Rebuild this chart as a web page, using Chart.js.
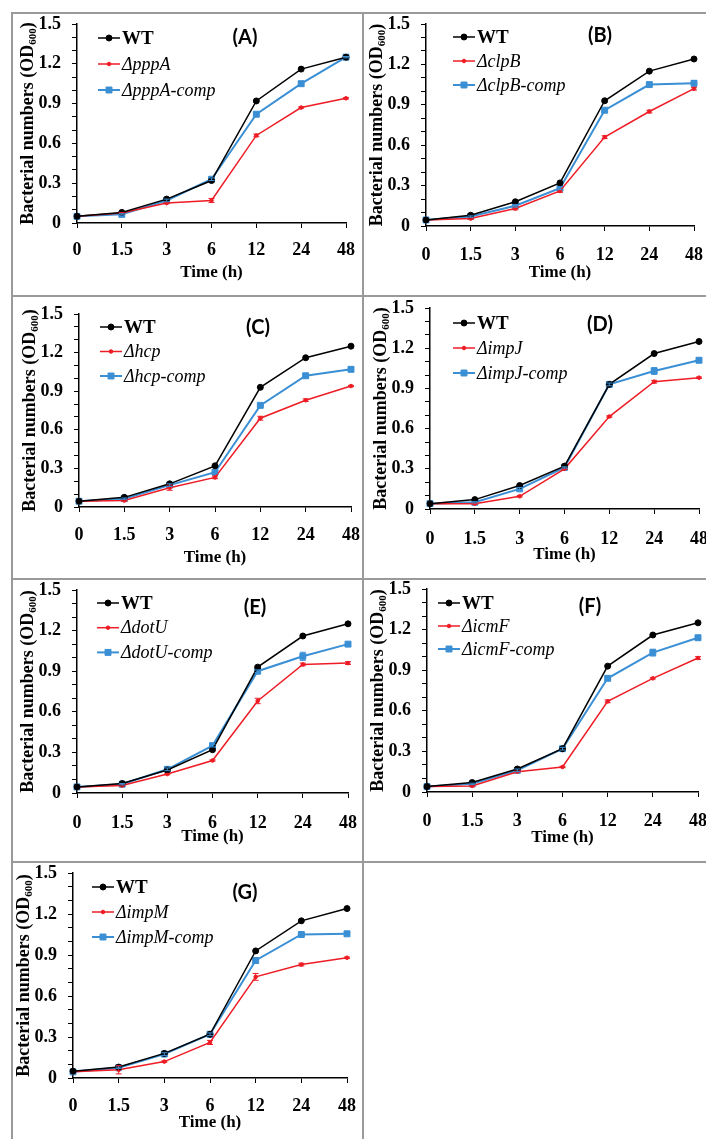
<!DOCTYPE html>
<html>
<head>
<meta charset="utf-8">
<script src="https://cdn.jsdelivr.net/npm/chart.js@4.4.1/dist/chart.umd.min.js"></script>
<style>
  html,body{margin:0;padding:0;background:#fff;overflow:hidden;}
  #wrap{position:relative;width:706px;height:1139px;overflow:hidden;}
  canvas{position:absolute;}
  .ln{position:absolute;background:#9a9a9a;}
</style>
</head>
<body>
<div id="wrap">
  <div class="ln" style="left:11px;top:12px;width:695px;height:2px"></div>
  <div class="ln" style="left:11px;top:295px;width:695px;height:2px"></div>
  <div class="ln" style="left:11px;top:578px;width:695px;height:2px"></div>
  <div class="ln" style="left:11px;top:861px;width:695px;height:2px"></div>
  <div class="ln" style="left:11px;top:12px;width:2px;height:1127px"></div>
  <div class="ln" style="left:362px;top:12px;width:2px;height:1127px"></div>
</div>
<script>
// ---------- data ----------
const timeLabels = ['0', '1.5', '3', '6', '12', '24', '48'];
const yTickValues = [0, 0.3, 0.6, 0.9, 1.2, 1.5];
const panelTags = ['(A)', '(B)', '(C)', '(D)', '(E)', '(F)', '(G)'];
const mutantNames = ['\u0394pppA', '\u0394clpB', '\u0394hcp', '\u0394impJ', '\u0394dotU', '\u0394icmF', '\u0394impM'];

const wtA   = [0.05, 0.08, 0.18, 0.32, 0.92, 1.16, 1.25];
const mutA  = [0.05, 0.075, 0.15, 0.17, 0.66, 0.87, 0.94];
const compA = [0.05, 0.065, 0.17, 0.33, 0.82, 1.05, 1.25];
const errMutA  = [0, 0.005, 0.005, 0.015, 0.01, 0.005, 0.005];
const errCompA = [0, 0.005, 0.01, 0.01, 0.01, 0.01, 0.005];

const wtB   = [0.045, 0.08, 0.18, 0.32, 0.93, 1.15, 1.24];
const mutB  = [0.045, 0.055, 0.13, 0.26, 0.66, 0.85, 1.02];
const compB = [0.045, 0.07, 0.15, 0.28, 0.86, 1.05, 1.06];
const errMutB  = [0, 0.005, 0.01, 0.01, 0.01, 0.01, 0.01];
const errCompB = [0, 0.005, 0.01, 0.01, 0.01, 0.01, 0.02];

const wtC   = [0.045, 0.075, 0.18, 0.32, 0.93, 1.16, 1.25];
const mutC  = [0.045, 0.05, 0.15, 0.23, 0.69, 0.83, 0.94];
const compC = [0.045, 0.065, 0.17, 0.27, 0.79, 1.02, 1.07];
const errMutC  = [0, 0.005, 0.02, 0.01, 0.015, 0.01, 0.005];
const errCompC = [0, 0.005, 0.01, 0.01, 0.01, 0.01, 0.01];

const wtD   = [0.04, 0.07, 0.175, 0.32, 0.93, 1.16, 1.25];
const mutD  = [0.04, 0.04, 0.095, 0.30, 0.69, 0.95, 0.98];
const compD = [0.04, 0.05, 0.15, 0.31, 0.93, 1.03, 1.11];
const errMutD  = [0, 0.005, 0.005, 0.005, 0.005, 0.01, 0.005];
const errCompD = [0, 0.005, 0.01, 0.005, 0.01, 0.025, 0.01];

const wtE   = [0.045, 0.07, 0.17, 0.32, 0.93, 1.16, 1.25];
const mutE  = [0.045, 0.055, 0.14, 0.24, 0.68, 0.95, 0.96];
const compE = [0.045, 0.065, 0.175, 0.35, 0.90, 1.01, 1.10];
const errMutE  = [0, 0.005, 0.005, 0.005, 0.02, 0.01, 0.01];
const errCompE = [0, 0.005, 0.01, 0.01, 0.01, 0.03, 0.01];

const wtF   = [0.04, 0.07, 0.17, 0.32, 0.93, 1.16, 1.25];
const mutF  = [0.04, 0.045, 0.15, 0.185, 0.67, 0.84, 0.99];
const compF = [0.04, 0.06, 0.16, 0.32, 0.84, 1.03, 1.14];
const errMutF  = [0, 0.005, 0.005, 0.005, 0.01, 0.005, 0.01];
const errCompF = [0, 0.005, 0.01, 0.01, 0.01, 0.025, 0.01];

const wtG   = [0.05, 0.08, 0.18, 0.32, 0.93, 1.15, 1.24];
const mutG  = [0.045, 0.06, 0.12, 0.26, 0.74, 0.83, 0.88];
const compG = [0.045, 0.075, 0.175, 0.32, 0.86, 1.05, 1.055];
const errMutG  = [0, 0.03, 0.005, 0.015, 0.025, 0.01, 0.005];
const errCompG = [0, 0.005, 0.01, 0.01, 0.02, 0.005, 0.005];

const seriesWT   = [wtA, wtB, wtC, wtD, wtE, wtF, wtG];
const seriesMut  = [mutA, mutB, mutC, mutD, mutE, mutF, mutG];
const seriesComp = [compA, compB, compC, compD, compE, compF, compG];
const errMut  = [errMutA, errMutB, errMutC, errMutD, errMutE, errMutF, errMutG];
const errComp = [errCompA, errCompB, errCompC, errCompD, errCompE, errCompF, errCompG];

// ---------- layout (page pixels) ----------
const layouts = [
  {canvas:[13,14,349,281],  plot:[77,24,346,223],   xt:50, xp:12, leg:[21,14,26],   tag:[245,38]},
  {canvas:[364,14,356,281], plot:[426,24,694,226],  xt:47, xp:14, leg:[27,13,24],   tag:[600,36]},
  {canvas:[13,297,349,281], plot:[79,314,351,507],  xt:51, xp:13, leg:[21,13,24.5], tag:[258,328]},
  {canvas:[364,297,356,281],plot:[430,308,699,509], xt:46, xp:15, leg:[23,15,25],   tag:[600,325]},
  {canvas:[13,580,349,281], plot:[77,590,348,793],  xt:44, xp:15, leg:[20,13,24.7], tag:[255,608]},
  {canvas:[364,580,356,281],plot:[427,589,698,792], xt:46, xp:14, leg:[11,14,23],   tag:[590,607]},
  {canvas:[13,863,349,276], plot:[73,873,347,1078], xt:45, xp:13, leg:[19,14,25],   tag:[245,893]}
];

const SERIF = "'Liberation Serif','Times New Roman',serif";
const RED = '#ee1c25', BLUE = '#3b8fd4';

const errorBars = {
  id: 'errorBars',
  afterDatasetsDraw(chart) {
    const ctx = chart.ctx, ys = chart.scales.y;
    chart.data.datasets.forEach((ds, i) => {
      if (!ds.err) return;
      const meta = chart.getDatasetMeta(i);
      ctx.save();
      ctx.strokeStyle = ds.borderColor; ctx.lineWidth = 1;
      meta.data.forEach((pt, j) => {
        const e = ds.err[j]; if (!e) return;
        const y1 = ys.getPixelForValue(ds.data[j] + e), y2 = ys.getPixelForValue(ds.data[j] - e);
        ctx.beginPath();
        ctx.moveTo(pt.x, y1); ctx.lineTo(pt.x, y2);
        ctx.moveTo(pt.x - 3, y1); ctx.lineTo(pt.x + 3, y1);
        ctx.moveTo(pt.x - 3, y2); ctx.lineTo(pt.x + 3, y2);
        ctx.stroke();
      });
      ctx.restore();
    });
  }
};

const decorations = {
  id: 'decorations',
  afterDraw(chart, args, opts) {
    const ctx = chart.ctx, ca = chart.chartArea, L = opts.layout;
    const cx = L.canvas[0], cy = L.canvas[1];
    // legend
    chart.data.datasets.forEach((ds, i) => {
      const y = ca.top + L.leg[1] + i * L.leg[2];
      const x0 = ca.left + L.leg[0];
      ctx.save();
      ctx.strokeStyle = ds.borderColor; ctx.fillStyle = ds.backgroundColor;
      ctx.lineWidth = ds.borderWidth;
      ctx.beginPath(); ctx.moveTo(x0, y); ctx.lineTo(x0 + 22, y); ctx.stroke();
      ctx.lineWidth = 1;
      Chart.helpers.drawPoint(ctx, {pointStyle: ds.pointStyle, radius: ds.pointRadius, rotation: 0, borderWidth: 1}, x0 + 11, y);
      ctx.fillStyle = '#000';
      ctx.textBaseline = 'middle'; ctx.textAlign = 'left';
      ctx.font = (i === 0 ? 'bold 19px ' : 'italic 18px ') + SERIF;
      ctx.fillText(ds.label, x0 + 24, y + 1);
      ctx.restore();
    });
    // panel tag
    ctx.save();
    ctx.font = "bold 20px Lato, 'Open Sans', sans-serif";
    ctx.fillStyle = '#000'; ctx.textAlign = 'center'; ctx.textBaseline = 'middle';
    ctx.fillText(opts.tag, L.tag[0] - cx, L.tag[1] - cy);
    ctx.restore();
    // y title with subscript
    ctx.save();
    const main = 'Bacterial numbers (OD', sub = '600', end = ')';
    const fMain = 'bold 18px ' + SERIF, fSub = 'bold 11px ' + SERIF;
    ctx.font = fMain; const w1 = ctx.measureText(main).width, w3 = ctx.measureText(end).width;
    ctx.font = fSub; const w2 = ctx.measureText(sub).width;
    const tot = w1 + w2 + w3;
    ctx.translate(ca.left - 49, (ca.top + ca.bottom) / 2);
    ctx.rotate(-Math.PI / 2);
    ctx.fillStyle = '#000'; ctx.textBaseline = 'middle'; ctx.textAlign = 'left';
    let x = -tot / 2;
    ctx.font = fMain; ctx.fillText(main, x, 0); x += w1;
    ctx.font = fSub; ctx.fillText(sub, x, 5); x += w2;
    ctx.font = fMain; ctx.fillText(end, x, 0);
    ctx.restore();
  }
};

layouts.forEach((L, p) => {
  const cv = document.createElement('canvas');
  const [cx, cy, cw, ch] = L.canvas;
  cv.width = cw; cv.height = ch;
  cv.style.left = cx + 'px'; cv.style.top = cy + 'px';
  cv.style.width = cw + 'px'; cv.style.height = ch + 'px';
  document.getElementById('wrap').appendChild(cv);
  const [pl, pt, pr, pb] = L.plot;
  const titleLH = 17 * 1.2;
  const titlePadBottom = (cy + ch) - (pb + L.xt) - titleLH / 2;

  new Chart(cv, {
    type: 'line',
    data: {
      labels: timeLabels,
      datasets: [
        {label: 'WT', data: seriesWT[p], borderColor: '#000', backgroundColor: '#000',
         borderWidth: 1.5, pointStyle: 'circle', pointRadius: 3, pointBorderWidth: 1, tension: 0},
        {label: mutantNames[p], data: seriesMut[p], err: errMut[p], borderColor: RED, backgroundColor: RED,
         borderWidth: 1.5, pointStyle: 'circle', pointRadius: 1.8, pointBorderWidth: 1, tension: 0},
        {label: mutantNames[p] + '-comp', data: seriesComp[p], err: errComp[p], borderColor: BLUE, backgroundColor: BLUE,
         borderWidth: 2, pointStyle: 'rect', pointRadius: 4.2, pointBorderWidth: 1, tension: 0}
      ]
    },
    options: {
      responsive: false, animation: false, devicePixelRatio: 1,
      layout: {padding: {left: 0, bottom: 0, top: pt - cy, right: (cx + cw) - pr}},
      plugins: {legend: {display: false}, tooltip: {enabled: false},
                decorations: {layout: L, tag: panelTags[p]}},
      scales: {
        x: {
          type: 'category', offset: false,
          afterFit: s => { s.height = (cy + ch) - pb; s.paddingLeft = 0; s.paddingRight = 0; },
          grid: {drawOnChartArea: false, drawTicks: true, tickLength: 5, color: '#000', lineWidth: 1},
          border: {display: true, color: '#000', width: 1.5},
          ticks: {color: '#000', autoSkip: false, maxRotation: 0, padding: L.xp,
                  font: {family: SERIF, size: 18, weight: 'bold'}},
          title: {display: true, text: 'Time (h)', color: '#000',
                  font: {family: SERIF, size: 17, weight: 'bold'},
                  padding: {top: 0, bottom: titlePadBottom}}
        },
        y: {
          min: 0, max: 1.5,
          afterFit: s => { s.width = pl - cx; s.paddingTop = 0; s.paddingBottom = 0; },
          afterBuildTicks: s => {
            const t = [];
            for (let k = 0; k <= 15; k++) t.push({value: k / 10});
            s.ticks = t;
          },
          grid: {drawOnChartArea: false, drawTicks: true, tickLength: 5, color: '#000', lineWidth: 1},
          border: {display: true, color: '#000', width: 1.5},
          ticks: {color: '#000', padding: 11, autoSkip: false,
                  font: {family: SERIF, size: 18, weight: 'bold'},
                  callback: v => {
                    const m = yTickValues.find(t => Math.abs(t - v) < 1e-6);
                    return m === undefined ? '' : String(m);
                  }}
        }
      }
    },
    plugins: [errorBars, decorations]
  });
});
</script>
</body>
</html>
